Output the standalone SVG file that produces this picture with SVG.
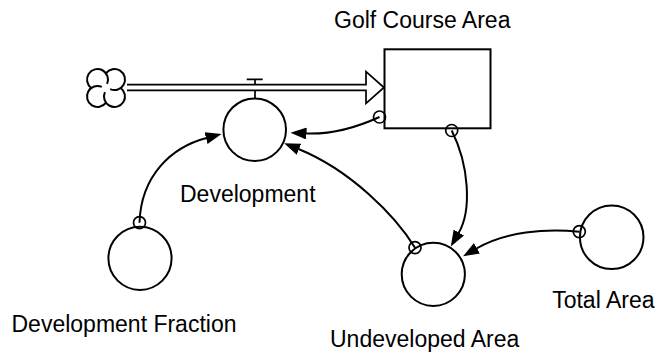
<svg xmlns="http://www.w3.org/2000/svg" width="659" height="353" viewBox="0 0 659 353">
<style>
.lbl{font-family:"Liberation Sans",Arial,sans-serif;font-size:23px;fill:#000}
.aux{fill:#fff;stroke:#000;stroke-width:2}
.link{fill:none;stroke:#000;stroke-width:2}
.ring{fill:none;stroke:#000;stroke-width:1.7}
</style>
<defs>
<marker id="ah" viewBox="0 -6 16 12" markerWidth="16" markerHeight="12" refX="0.5" refY="0" orient="auto" markerUnits="userSpaceOnUse">
<path d="M0,-6 L16,0 L0,6 z" fill="#000"/>
</marker>
</defs>
<rect width="659" height="353" fill="#fff"/>

<g id="cloud" fill="none" stroke="#000" stroke-width="2">
<path d="M106,73.34 A10.5,10.5 0 1 1 110.2,89.1"/>
<path d="M120.66,88 A10.5,10.5 0 1 1 104.9,92.2"/>
<path d="M106,102.66 A10.5,10.5 0 1 1 101.8,86.9"/>
<path d="M91.34,88 A10.5,10.5 0 1 1 107.1,83.8"/>
</g>

<g id="flow-Development">
<path d="M127,84.7 H366 V71.7 L384,87.5 L366,103.3 V90.3 H127" fill="#fff" stroke="#000" stroke-width="1.7"/>
<path d="M255,84 V79.3 M246.7,79.3 H262.7 M255,91 V98.5" fill="none" stroke="#000" stroke-width="1.7"/>
</g>

<g id="stock-GolfCourseArea">
<rect x="384.5" y="49.3" width="106" height="79" fill="#fff" stroke="#000" stroke-width="2"/>
<text class="lbl" x="334" y="28.3">Golf Course Area</text>
</g>

<g id="aux-Development">
<circle class="aux" cx="254.7" cy="129.7" r="31.3"/>
<text class="lbl" x="180" y="202.3">Development</text>
</g>

<g id="aux-DevelopmentFraction">
<circle class="aux" cx="140" cy="258.3" r="31.6"/>
<text class="lbl" x="11.5" y="331.7">Development Fraction</text>
</g>

<g id="aux-UndevelopedArea">
<circle class="aux" cx="433.3" cy="274.3" r="31.6"/>
<text class="lbl" x="330" y="346.7">Undeveloped Area</text>
</g>

<g id="aux-TotalArea">
<circle class="aux" cx="611.7" cy="237.2" r="31.8"/>
<text class="lbl" x="552.2" y="308.3">Total Area</text>
</g>

<g id="connectors">
<path class="link" d="M379.5,117 Q340,135 306,133.5" marker-end="url(#ah)"/>
<circle class="ring" cx="379.5" cy="117" r="6"/>
<path class="link" d="M451.7,130.5 C469,165 472,210 458.6,233" marker-end="url(#ah)"/>
<circle class="ring" cx="451.7" cy="130.5" r="6"/>
<path class="link" d="M415,247.7 C395,215 350,170 298.5,149" marker-end="url(#ah)"/>
<circle class="ring" cx="415" cy="247.7" r="6"/>
<path class="link" d="M579.3,231.7 C545,228 505,232 476.5,248.5" marker-end="url(#ah)"/>
<circle class="ring" cx="579.3" cy="231.7" r="6"/>
<path class="link" d="M139.5,222.7 C141,175 172,147 206.5,138" marker-end="url(#ah)"/>
<circle class="ring" cx="139.5" cy="222.7" r="6"/>
</g>
</svg>
